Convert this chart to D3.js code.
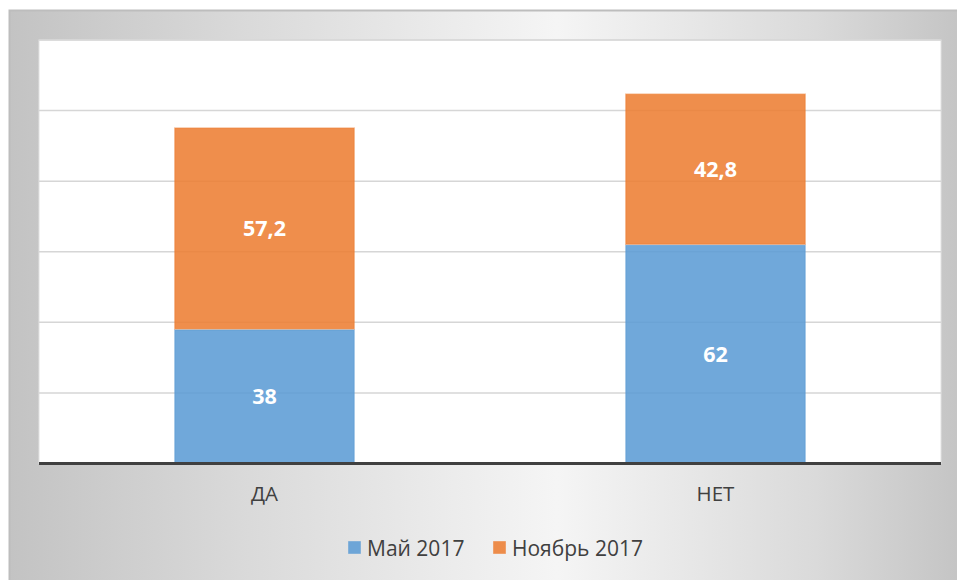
<!DOCTYPE html>
<html><head><meta charset="utf-8">
<script src="https://cdn.jsdelivr.net/npm/d3@7"></script>
<style>html,body{margin:0;padding:0;background:#fff;}svg{display:block;}</style>
</head><body>
<svg id="chart" width="957" height="580"></svg>
<script>
const categories = ["ДА", "НЕТ"];
const seriesNames = ["Май 2017", "Ноябрь 2017"];
const may2017 = [38, 62];
const nov2017 = [57.2, 42.8];
const labelsMay = ["38", "62"];
const labelsNov = ["57,2", "42,8"];
const yTicks = [0, 20, 40, 60, 80, 100, 120];
const colors = ["#5b9bd5", "#ed7d31"];

const svg = d3.select("#chart");
const defs = svg.append("defs");
const g1 = defs.append("linearGradient").attr("id","bg").attr("x1","0").attr("y1","0").attr("x2","1").attr("y2","0");
g1.append("stop").attr("offset","0").attr("stop-color","#c3c3c3");
g1.append("stop").attr("offset","0.25").attr("stop-color","#dadada");
g1.append("stop").attr("offset","0.57").attr("stop-color","#f5f5f5");
g1.append("stop").attr("offset","0.84").attr("stop-color","#dadada");
g1.append("stop").attr("offset","1").attr("stop-color","#c3c3c3");

svg.append("rect").attr("x",9.5).attr("y",10.5).attr("width",960).attr("height",580)
  .attr("fill","url(#bg)").attr("stroke","#bdbdbd").attr("stroke-width",2);

const plot = {left:39, top:40, right:941, bottom:463.5};

svg.append("rect").attr("x",plot.left).attr("y",plot.top)
  .attr("width",plot.right-plot.left).attr("height",plot.bottom-plot.top)
  .attr("fill","#ffffff").attr("stroke","#e2e2e2").attr("stroke-width",1);

const x = d3.scaleBand().domain(categories).range([plot.left, plot.right])
  .paddingInner(0.6).paddingOuter(0.3);
const y = d3.scaleLinear().domain([0,120]).range([plot.bottom, plot.top]);

// gridlines
svg.append("g").selectAll("line").data(yTicks.filter(d=>d>0)).join("line")
  .attr("x1",plot.left).attr("x2",plot.right)
  .attr("y1",d=>y(d)).attr("y2",d=>y(d))
  .attr("stroke","#d6d6d6").attr("stroke-width",1.5);

const data = categories.map((c,i)=>({cat:c, may:may2017[i], nov:nov2017[i], lm:labelsMay[i], ln:labelsNov[i]}));
const stack = d3.stack().keys(["may","nov"])(data);

const bars = svg.append("g");
stack.forEach((layer, li)=>{
  bars.append("g").selectAll("rect").data(layer).join("rect")
    .attr("x", d=>x(d.data.cat)+0.5)
    .attr("y", d=>y(d[1])+0.5)
    .attr("width", x.bandwidth()-1)
    .attr("height", d=>y(d[0])-y(d[1])-1)
    .attr("fill", colors[li]).attr("fill-opacity",0.87)
    .attr("stroke", colors[li]).attr("stroke-opacity",0.45).attr("stroke-width",1.5);
});

// data labels
stack.forEach((layer, li)=>{
  svg.append("g").selectAll("text").data(layer).join("text")
    .attr("x", d=>x(d.data.cat)+x.bandwidth()/2)
    .attr("y", d=>(y(d[0])+y(d[1]))/2)
    .attr("dy","0.36em")
    .attr("text-anchor","middle")
    .attr("font-family","'Open Sans', sans-serif")
    .attr("font-weight","bold").attr("font-size","21.5px")
    .attr("fill","#ffffff")
    .text(d=> li===0 ? d.data.lm : d.data.ln);
});

// baseline axis
svg.append("line").attr("x1",plot.left).attr("x2",plot.right)
  .attr("y1",y(0)).attr("y2",y(0)).attr("stroke","#404040").attr("stroke-width",3);

// category axis
const xAxis = svg.append("g").attr("transform",`translate(0,${plot.bottom})`)
  .call(d3.axisBottom(x).tickSize(0).tickPadding(23));
xAxis.select(".domain").remove();
xAxis.selectAll("text").attr("font-family","'Open Sans', sans-serif")
  .attr("font-size","20.5px").attr("fill","#404040");

// legend
const legend = svg.append("g").attr("font-family","'Open Sans', sans-serif").attr("font-size","21px");
const legendX = [348, 493];
seriesNames.forEach((s,i)=>{
  const lg = legend.append("g").attr("transform",`translate(${legendX[i]},0)`);
  lg.append("rect").attr("x",0.5).attr("y",541.5).attr("width",12).attr("height",12)
    .attr("fill",colors[i]).attr("fill-opacity",0.87)
    .attr("stroke",colors[i]).attr("stroke-opacity",0.45);
  lg.append("text").attr("x",19).attr("y",555.5).attr("fill","#404040").text(s);
});
</script>
</body></html>
